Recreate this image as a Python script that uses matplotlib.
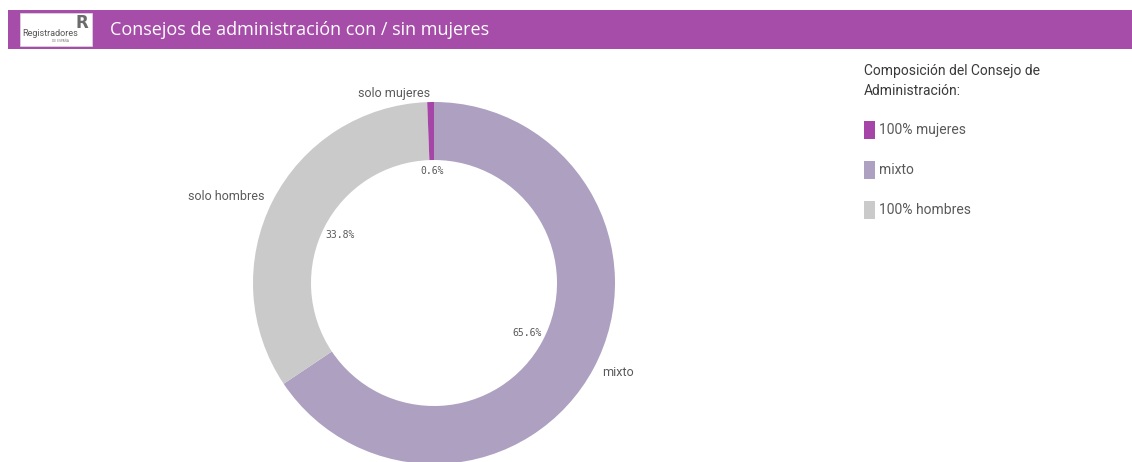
import numpy as np
import matplotlib
matplotlib.use("Agg")
import matplotlib.pyplot as plt
from matplotlib.patches import Rectangle

# ---- data ----
categories = ["mixto", "solo hombres", "solo mujeres"]
values = [65.6, 33.8, 0.6]
colors = ["#ada0c1", "#cacaca", "#a545a8"]
legend_labels = ["100% mujeres", "mixto", "100% hombres"]
legend_colors = ["#a545a8", "#ada0c1", "#cacaca"]
title = "Consejos de administración con / sin mujeres"
legend_title = "Composición del Consejo de\nAdministración:"

W, H = 1132, 462
fig = plt.figure(figsize=(W / 100, H / 100), dpi=100)
ax = fig.add_axes([0, 0, 1, 1])
ax.set_xlim(0, W)
ax.set_ylim(0, H)
ax.set_aspect("equal")
ax.axis("off")

def Y(y):
    return H - y

# title bar
ax.add_patch(Rectangle((8, Y(49)), W - 8, 39, color="#a64ca9", lw=0))
ax.text(110, Y(30), title, color="white", fontsize=13, family="Open Sans",
        va="center", ha="left")
# logo
ax.add_patch(Rectangle((20, Y(46)), 72, 33, facecolor="white", edgecolor="#dddddd", lw=0.5))
ax.text(22, Y(34), "Registradores", fontsize=6.5, color="#555555", family="Roboto",
        va="center", ha="left")
ax.text(82, Y(23), "R", fontsize=12, color="#6b6b6b", family="DejaVu Sans",
        fontweight="bold", va="center", ha="center")
ax.text(60, Y(41), "DE ESPAÑA", fontsize=2.2, color="#777777", va="center", ha="center")

# donut
cx, cy, R = 434, Y(283), 181
width = 58
wedges, _ = ax.pie(values, colors=colors, startangle=90, counterclock=False,
                   center=(cx, cy), radius=R, frame=True,
                   wedgeprops=dict(width=width, linewidth=0))
ax.set_xlim(0, W)
ax.set_ylim(0, H)
ax.axis("off")

txt = "#595959"
for w, cat, v in zip(wedges, categories, values):
    mid = np.deg2rad((w.theta1 + w.theta2) / 2)
    r_in = 106 if v > 2 else 112
    ax.text(cx + r_in * np.cos(mid), cy + r_in * np.sin(mid), f"{v:.1f}%",
            fontsize=7, family="DejaVu Sans Mono", color=txt, ha="center", va="center")
    r_out = 190
    x = cx + r_out * np.cos(mid)
    y = cy + r_out * np.sin(mid)
    ha = "left" if np.cos(mid) > 0.05 else "right"
    if cat == "solo mujeres":
        y = Y(94)
    ax.text(x, y, cat, fontsize=9, family="Roboto", color=txt, ha=ha, va="center")

# legend
ax.text(864, Y(81), legend_title, fontsize=10, family="Roboto", color="#3a3a3a",
        ha="left", va="center", linespacing=1.5)
for i, (lab, col) in enumerate(zip(legend_labels, legend_colors)):
    yc = 130 + 40 * i
    ax.add_patch(Rectangle((864, Y(yc + 9)), 11, 18, color=col, lw=0))
    ax.text(879, Y(yc), lab, fontsize=10, family="Roboto", color="#595959",
            ha="left", va="center")

fig.savefig("out.png", dpi=100, facecolor="white")
